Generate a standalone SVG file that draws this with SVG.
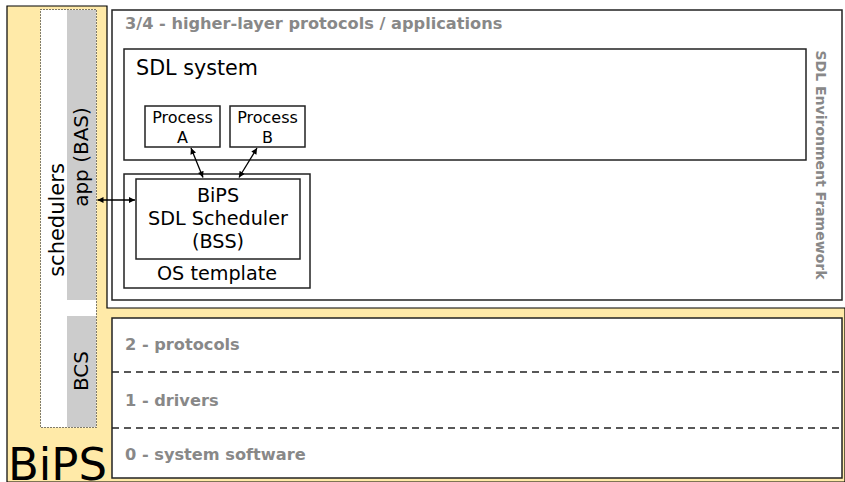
<svg xmlns="http://www.w3.org/2000/svg" width="845" height="482" viewBox="0 0 845 482">
<style>
text{font-family:"DejaVu Sans","Liberation Sans",sans-serif;fill:#000}
.box{fill:#fff;stroke:#222;stroke-width:1.5}
.lbl{font-weight:bold;fill:#888;font-size:16.2px}
.n{font-size:20px}
.p{font-size:16px;text-anchor:middle}
.s{font-size:19.2px;text-anchor:middle}
.bar{fill:#ccc}
.dash{stroke:#222;stroke-width:1.5;stroke-dasharray:7 5;fill:none}
.conn{stroke:#000;stroke-width:1.3;fill:none;marker-start:url(#ah);marker-end:url(#ah)}
</style>
<defs>
<marker id="ah" viewBox="0 0 10 10" refX="10" refY="5" markerWidth="7" markerHeight="6" markerUnits="userSpaceOnUse" orient="auto-start-reverse">
<path d="M0,0 L10,5 L0,10 z" fill="#000"/>
</marker>
</defs>
<rect width="845" height="482" fill="#fff"/>
<g id="bips">
<polygon points="7,6 107,6 107,308 845,308 845,482 7,482" fill="#ffeaa8" stroke="#000" stroke-width="1.2"/>
<text x="8" y="480" style="font-size:45px">BiPS</text>
</g>
<g id="schedulers">
<rect x="40.5" y="9.5" width="56" height="418" fill="#fff"/>
<rect class="bar" x="67" y="10" width="29" height="290"/>
<rect class="bar" x="67" y="316" width="29" height="111"/>
<rect x="40.5" y="9.5" width="56" height="418" fill="none" stroke="#000" stroke-width="1" stroke-dasharray="1 2"/>
<text class="n" transform="translate(64,220) rotate(-90)" text-anchor="middle" style="font-size:21px">schedulers</text>
</g>
<g id="app-bas">
<text class="n" transform="translate(88,157) rotate(-90)" text-anchor="middle">app (BAS)</text>
</g>
<g id="bcs">
<text class="n" transform="translate(88,371) rotate(-90)" text-anchor="middle">BCS</text>
</g>
<g id="layer34">
<rect class="box" x="112" y="10" width="730" height="290"/>
<text class="lbl" x="125" y="29">3/4 - higher-layer protocols / applications</text>
<text class="lbl" transform="translate(816,165) rotate(90)" text-anchor="middle" style="font-size:14px">SDL Environment Framework</text>
</g>
<g id="sdl-system">
<rect class="box" x="124" y="49" width="682" height="111"/>
<text class="n" x="136" y="75" style="font-size:20.7px">SDL system</text>
</g>
<g id="process-a">
<rect class="box" x="145" y="106" width="75" height="41"/>
<text class="p" x="182.5" y="122.5">Process</text>
<text class="p" x="182.5" y="142.5">A</text>
</g>
<g id="process-b">
<rect class="box" x="230" y="106" width="75" height="41"/>
<text class="p" x="267.5" y="122.5">Process</text>
<text class="p" x="267.5" y="142.5">B</text>
</g>
<g id="os-template">
<rect class="box" x="124" y="174" width="186" height="114"/>
<text class="s" x="217" y="280">OS template</text>
</g>
<g id="bss">
<rect class="box" x="136" y="179" width="164" height="80"/>
<text class="s" x="218" y="202">BiPS</text>
<text class="s" x="218" y="225">SDL Scheduler</text>
<text class="s" x="218" y="248">(BSS)</text>
</g>
<g id="lower-layers">
<rect class="box" x="112" y="318" width="730" height="160"/>
<line class="dash" x1="112" y1="372" x2="842" y2="372"/>
<line class="dash" x1="112" y1="428" x2="842" y2="428"/>
<text class="lbl" x="125" y="350">2 - protocols</text>
<text class="lbl" x="125" y="406">1 - drivers</text>
<text class="lbl" x="125" y="460">0 - system software</text>
</g>
<g id="connectors">
<line class="conn" x1="191" y1="148" x2="203" y2="177.5"/>
<line class="conn" x1="257" y1="148" x2="239" y2="177.5"/>
<line class="conn" x1="97.5" y1="200" x2="135" y2="200"/>
</g>
</svg>
